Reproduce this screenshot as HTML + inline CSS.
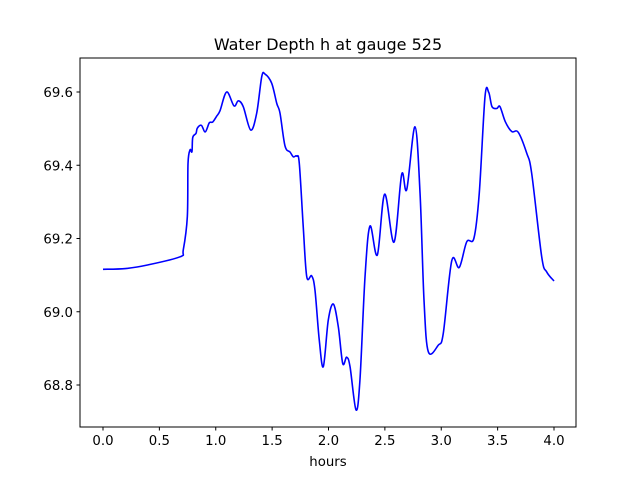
<!DOCTYPE html>
<html><head><meta charset="utf-8"><style>
body{margin:0;background:#fff}
svg text{font-family:"DejaVu Sans","Liberation Sans",sans-serif;fill:#000}
</style></head><body>
<svg width="640" height="480" xmlns="http://www.w3.org/2000/svg">
<rect width="640" height="480" fill="#fff"/>
<text x="328" y="50" font-size="16" text-anchor="middle">Water Depth h at gauge 525</text>
<g id="xt"></g><g id="yt"></g>
<path id="line" fill="none" stroke="#0000ff" stroke-width="1.6" stroke-linejoin="round"/>
<rect x="80" y="58" width="496" height="369" fill="none" stroke="#000" stroke-width="1"/>
<text x="328" y="466" font-size="13.3" text-anchor="middle">hours</text>
</svg>
<script>
const times=[0,0.2,0.4,0.683,0.712,0.748,0.754,0.772,0.789,0.796,0.825,0.836,0.872,0.907,0.943,0.973,1.008,1.038,1.097,1.162,1.2,1.244,1.31,1.363,1.408,1.437,1.496,1.541,1.57,1.614,1.659,1.688,1.718,1.741,1.776,1.807,1.851,1.88,1.918,1.954,1.998,2.043,2.087,2.126,2.161,2.191,2.244,2.279,2.324,2.368,2.433,2.498,2.581,2.649,2.694,2.767,2.812,2.847,2.885,2.974,3.018,3.093,3.16,3.226,3.29,3.337,3.388,3.421,3.45,3.492,3.521,3.568,3.625,3.683,3.758,3.802,3.891,3.935,4.0];
const depths=[69.116,69.118,69.128,69.15,69.169,69.26,69.405,69.442,69.437,69.476,69.487,69.501,69.509,69.491,69.516,69.518,69.534,69.549,69.6,69.562,69.576,69.56,69.496,69.542,69.642,69.649,69.624,69.569,69.542,69.453,69.436,69.423,69.425,69.405,69.232,69.096,69.098,69.059,68.923,68.85,68.977,69.021,68.959,68.859,68.876,68.85,68.732,68.814,69.096,69.234,69.155,69.321,69.19,69.375,69.334,69.505,69.323,69.032,68.891,68.909,68.941,69.139,69.121,69.191,69.201,69.323,69.587,69.599,69.56,69.555,69.56,69.519,69.492,69.49,69.433,69.378,69.15,69.109,69.084];
const xTicks=[0,0.5,1,1.5,2,2.5,3,3.5,4];
const yTicks=[68.8,69.0,69.2,69.4,69.6];
const X=t=>103+t*112.75;
const Y=h=>92+(69.6-h)*366.25;
const NS='http://www.w3.org/2000/svg';
const xt=document.getElementById('xt'),yt=document.getElementById('yt');
xTicks.forEach(v=>{
  const l=document.createElementNS(NS,'line');
  
  
  l.setAttribute('x1',X(v));l.setAttribute('x2',X(v));l.setAttribute('y1',427);l.setAttribute('y2',430.5);l.setAttribute('stroke','#000');
  xt.appendChild(l);
  const t=document.createElementNS(NS,'text');
  
  
  t.setAttribute('x',X(v));t.setAttribute('y',445);t.setAttribute('font-size','13.3');t.setAttribute('text-anchor','middle');
  t.textContent=v.toFixed(1);xt.appendChild(t);
});
yTicks.forEach(v=>{
  const l=document.createElementNS(NS,'line');
  
  
  l.setAttribute('x1',76.5);l.setAttribute('x2',80);l.setAttribute('y1',Y(v));l.setAttribute('y2',Y(v));l.setAttribute('stroke','#000');
  yt.appendChild(l);
  const t=document.createElementNS(NS,'text');
  
  
  t.setAttribute('x',73);t.setAttribute('y',Y(v)+5);t.setAttribute('font-size','13.3');t.setAttribute('text-anchor','end');
  t.textContent=v.toFixed(1);yt.appendChild(t);
});
const P=times.map((t,i)=>[X(t),Y(depths[i])]);
let d='M'+P[0][0]+','+P[0][1];
for(let i=0;i<P.length-1;i++){
  const p0=P[i-1]||P[i],p1=P[i],p2=P[i+1],p3=P[i+2]||P[i+1];
  const k=1/6;
  d+=' C'+(p1[0]+(p2[0]-p0[0])*k)+','+(p1[1]+(p2[1]-p0[1])*k)+' '+(p2[0]-(p3[0]-p1[0])*k)+','+(p2[1]-(p3[1]-p1[1])*k)+' '+p2[0]+','+p2[1];
}
document.getElementById('line').setAttribute('d',d);
</script>
</body></html>
